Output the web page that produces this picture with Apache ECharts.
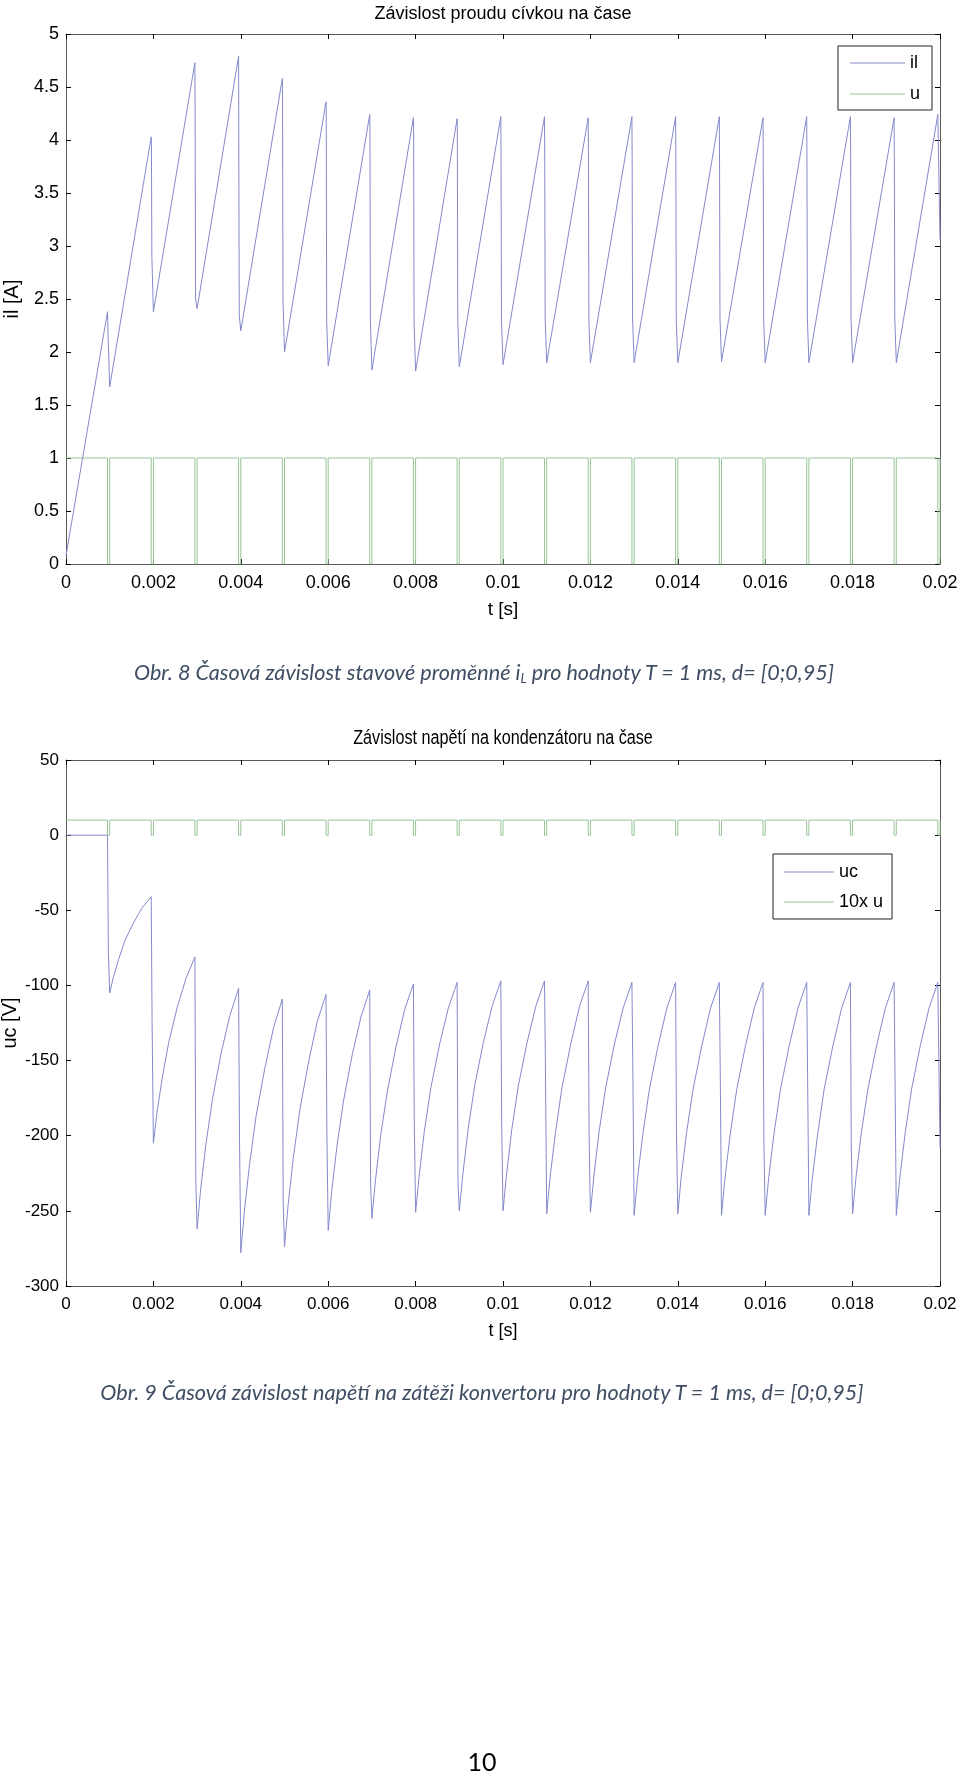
<!DOCTYPE html>
<html>
<head>
<meta charset="utf-8">
<script src="https://cdn.jsdelivr.net/npm/echarts@6/dist/echarts.min.js"></script>
<style>
html,body{margin:0;padding:0;background:#fff;}
#wrap{position:relative;width:960px;height:1772px;overflow:hidden;}
#chart{position:absolute;left:0;top:0;width:960px;height:1772px;}
.cap{position:absolute;width:960px;text-align:center;font-family:Lato,"Open Sans",sans-serif;font-style:italic;font-size:21.6px;line-height:26px;color:#3f4d63;white-space:nowrap;}
.cap sub{font-size:13px;line-height:0;vertical-align:-3px;}
#page{position:absolute;left:2px;top:1746px;width:960px;text-align:center;font-family:Lato,"Open Sans",sans-serif;font-size:25px;line-height:30px;color:#000;}
</style>
</head>
<body>
<div id="wrap">
<div id="chart"></div>
<div class="cap" style="left:4px;top:659px;">Obr. 8 Časová závislost stavové proměnné i<sub>L</sub> pro hodnoty T = 1 ms, d= [0;0,95]</div>
<div class="cap" style="left:2px;top:1379px;">Obr. 9 Časová závislost napětí na zátěži konvertoru pro hodnoty T = 1 ms, d= [0;0,95]</div>
<div id="page">10</div>
</div>
<script>
// ---------- data (times in ms) ----------
// end of each "on" interval (u drops to 0) and end of each "off" interval
const uOffStart = [0.95,1.95,2.95,3.95,4.95,5.95,6.95,7.95,8.95,9.95,10.95,11.95,12.95,13.95,14.95,15.95,16.95,17.95,18.95,19.95];
const uOffEnd   = [1.00,2.00,3.00,4.00,5.00,6.00,7.00,8.00,9.00,10.00,11.00,12.00,13.00,14.00,15.00,16.00,17.00,18.00,19.00,20.00];
const uOn = 1, uOff = 0;

// inductor current il [A]
const ilStart = 0.08;
const ilPeak   = [2.38,4.03,4.73,4.79,4.58,4.36,4.24,4.21,4.20,4.22,4.22,4.21,4.22,4.22,4.22,4.21,4.22,4.22,4.21,4.24];
const ilKinkHi = [2.30,3.95,4.22,3.70,4.42,4.30,4.15,4.10,4.12,3.86,3.86,3.90,3.86,3.88,3.86,3.88,3.86,3.88,3.86];
const ilKinkLo = [2.13,2.90,2.50,2.35,2.50,2.30,2.30,2.28,2.30,2.30,2.32,2.30,2.32,2.30,2.32,2.30,2.32,2.30,2.32];
const ilValley = [1.67,2.38,2.41,2.20,2.00,1.87,1.83,1.82,1.86,1.88,1.90,1.90,1.90,1.90,1.91,1.90,1.90,1.90,1.90];
const ilEnd = 3.06;

// capacitor voltage uc [V]
const ucPeak   = [0,-41,-81,-102,-109,-106,-103,-99,-98,-97,-97,-97,-98,-98,-98,-98,-98,-98,-98,-98];
const ucFirstKink = -20;
const ucKink   = [-79,-124,-228,-201,-244,-199,-231,-192,-231,-193,-150,-199,-152,-199,-155,-204,-158,-208,-160];
const ucValley = [-105,-205,-262,-278,-274,-263,-255,-251,-250,-250,-252,-251,-253,-252,-253,-253,-253,-252,-253];
const ucRiseOffsets = [0.08,0.20,0.35,0.55,0.75];
const ucRise = [
  [-95,-83,-70,-58,-48],
  [-185,-162,-138,-114,-95],
  [-236,-206,-176,-145,-120],
  [-251,-219,-187,-155,-128],
  [-247,-215,-183,-151,-124],
  [-237,-207,-177,-146,-121],
  [-230,-200,-171,-141,-116],
  [-227,-197,-168,-139,-115],
  [-226,-196,-167,-138,-114],
  [-226,-196,-167,-138,-114],
  [-227,-198,-168,-139,-114],
  [-227,-197,-168,-139,-115],
  [-228,-199,-169,-140,-115],
  [-227,-198,-169,-140,-115],
  [-228,-199,-169,-140,-115],
  [-228,-199,-169,-140,-115],
  [-228,-199,-169,-140,-115],
  [-227,-198,-169,-140,-115],
  [-228,-199,-169,-140,-115]
];
const ucEnd = -208;

const xTicks = [0,0.002,0.004,0.006,0.008,0.01,0.012,0.014,0.016,0.018,0.02];
const y1Ticks = [0,0.5,1,1.5,2,2.5,3,3.5,4,4.5,5];
const y2Ticks = [-300,-250,-200,-150,-100,-50,0,50];

// ---------- build point lists ----------
const s = ms => ms / 1000;
function buildU(scale) {
  const p = [[0, uOn * scale]];
  for (let i = 0; i < uOffStart.length; i++) {
    p.push([s(uOffStart[i]), uOn * scale], [s(uOffStart[i]), uOff * scale],
           [s(uOffEnd[i]), uOff * scale], [s(uOffEnd[i]), uOn * scale]);
  }
  return p;
}
function buildIl() {
  const p = [[0, ilStart]];
  for (let k = 1; k <= ilPeak.length; k++) {
    p.push([s(uOffStart[k-1]), ilPeak[k-1]]);
    if (k < ilPeak.length) {
      p.push([s(uOffStart[k-1] + 0.005), ilKinkHi[k-1]],
             [s(uOffStart[k-1] + 0.015), ilKinkLo[k-1]],
             [s(uOffEnd[k-1]), ilValley[k-1]]);
    } else {
      p.push([s(uOffEnd[k-1]), ilEnd]);
    }
  }
  return p;
}
function buildUc() {
  const p = [[0, 0]];
  for (let k = 1; k <= ucPeak.length; k++) {
    p.push([s(uOffStart[k-1]), ucPeak[k-1]]);
    if (k < ucPeak.length) {
      if (k === 1) p.push([s(uOffStart[0] + 0.005), ucFirstKink]);
      p.push([s(uOffStart[k-1] + 0.02), ucKink[k-1]], [s(uOffEnd[k-1]), ucValley[k-1]]);
      for (let j = 0; j < ucRiseOffsets.length; j++) {
        p.push([s(uOffEnd[k-1] + ucRiseOffsets[j]), ucRise[k-1][j]]);
      }
    } else {
      p.push([s(uOffEnd[k-1]), ucEnd]);
    }
  }
  return p;
}

// ---------- styling ----------
const REG = '"Liberation Sans", Arial, sans-serif';
const BLUE = '#8589cc';
const GREEN = '#98c498';
const BOX = '#5a5a5a';

function xAx(grid, size, nameSize, nameGap) {
  const base = {
    gridIndex: grid, type: 'value', min: xTicks[0], max: xTicks[xTicks.length-1],
    interval: xTicks[1] - xTicks[0],
    axisLine: {show: true, onZero: false, lineStyle: {color: BOX, width: 1}},
    axisTick: {show: true, inside: true, length: 5, lineStyle: {color: '#000', width: 1}},
    splitLine: {show: false}
  };
  return [
    Object.assign({}, base, {
      position: 'bottom',
      axisLabel: {color: '#000', fontFamily: REG, fontSize: size, margin: 10,
                  formatter: v => String(+v.toFixed(3))},
      name: 't [s]', nameLocation: 'middle', nameGap: nameGap, nameMoveOverlap: false,
      nameTextStyle: {color: '#000', fontFamily: REG, fontSize: nameSize}
    }),
    Object.assign({}, base, {position: 'top', axisLabel: {show: false}})
  ];
}
function yAx(grid, ticks, name, size, nameSize, nameGap) {
  const base = {
    gridIndex: grid, type: 'value', min: ticks[0], max: ticks[ticks.length-1],
    interval: ticks[1] - ticks[0],
    axisLine: {show: true, onZero: false, lineStyle: {color: BOX, width: 1}},
    axisTick: {show: true, inside: true, length: 5, lineStyle: {color: '#000', width: 1}},
    splitLine: {show: false}
  };
  return [
    Object.assign({}, base, {
      position: 'left',
      axisLabel: {color: '#000', fontFamily: REG, fontSize: size, margin: 7},
      name: name, nameLocation: 'middle', nameGap: nameGap, nameMoveOverlap: false,
      nameTextStyle: {color: '#000', fontFamily: REG, fontSize: nameSize}
    }),
    Object.assign({}, base, {position: 'right', axisLabel: {show: false}})
  ];
}

const chart = echarts.init(document.getElementById('chart'), null, {renderer: 'canvas'});
const xs = xAx(0, 18, 19, 36).concat(xAx(1, 17, 18, 36));
const ys = yAx(0, y1Ticks, 'il [A]', 18, 20, 44).concat(yAx(1, y2Ticks, 'uc [V]', 17, 20, 46));

const option = {
  animation: false,
  backgroundColor: '#fff',
  grid: [
    {left: 66, right: 20, top: 34, height: 530, outerBoundsMode: 'none', containLabel: false},
    {left: 66, right: 20, top: 760, height: 526, outerBoundsMode: 'none', containLabel: false}
  ],
  xAxis: xs,
  yAxis: ys,
  legend: [
    {data: ['il', 'u'], orient: 'vertical', left: 838, top: 46,
     padding: [8, 12, 7, 12], itemGap: 13, itemWidth: 55, itemHeight: 1, icon: 'rect',
     borderColor: '#222', borderWidth: 1, backgroundColor: '#fff',
     textStyle: {color: '#000', fontFamily: REG, fontSize: 18}},
    {data: ['uc', '10x u'], orient: 'vertical', left: 773, top: 854,
     padding: [9, 9, 8, 11], itemGap: 12, itemWidth: 50, itemHeight: 1, icon: 'rect',
     borderColor: '#222', borderWidth: 1, backgroundColor: '#fff',
     textStyle: {color: '#000', fontFamily: REG, fontSize: 18}}
  ],
  graphic: [
    {type: 'text', x: 503, y: 14, style: {text: 'Závislost proudu cívkou na čase',
      fontFamily: REG, fontSize: 18, fill: '#000', align: 'center', verticalAlign: 'middle'}},
    {type: 'text', x: 503, y: 738, scaleY: 1.3, style: {text: 'Závislost napětí na kondenzátoru na čase',
      fontFamily: REG, fontSize: 16.2, fill: '#000', align: 'center', verticalAlign: 'middle'}}
  ],
  series: [
    {name: 'il', type: 'line', xAxisIndex: 0, yAxisIndex: 0, data: buildIl(),
     showSymbol: false, symbol: 'none', lineStyle: {color: BLUE, width: 1}, itemStyle: {color: BLUE}},
    {name: 'u', type: 'line', xAxisIndex: 0, yAxisIndex: 0, data: buildU(1),
     showSymbol: false, symbol: 'none', lineStyle: {color: GREEN, width: 1}, itemStyle: {color: GREEN}},
    {name: 'uc', type: 'line', xAxisIndex: 2, yAxisIndex: 2, data: buildUc(),
     showSymbol: false, symbol: 'none', lineStyle: {color: BLUE, width: 1}, itemStyle: {color: BLUE}},
    {name: '10x u', type: 'line', xAxisIndex: 2, yAxisIndex: 2, data: buildU(10),
     showSymbol: false, symbol: 'none', lineStyle: {color: GREEN, width: 1}, itemStyle: {color: GREEN}}
  ]
};
chart.setOption(option);
</script>
</body>
</html>
